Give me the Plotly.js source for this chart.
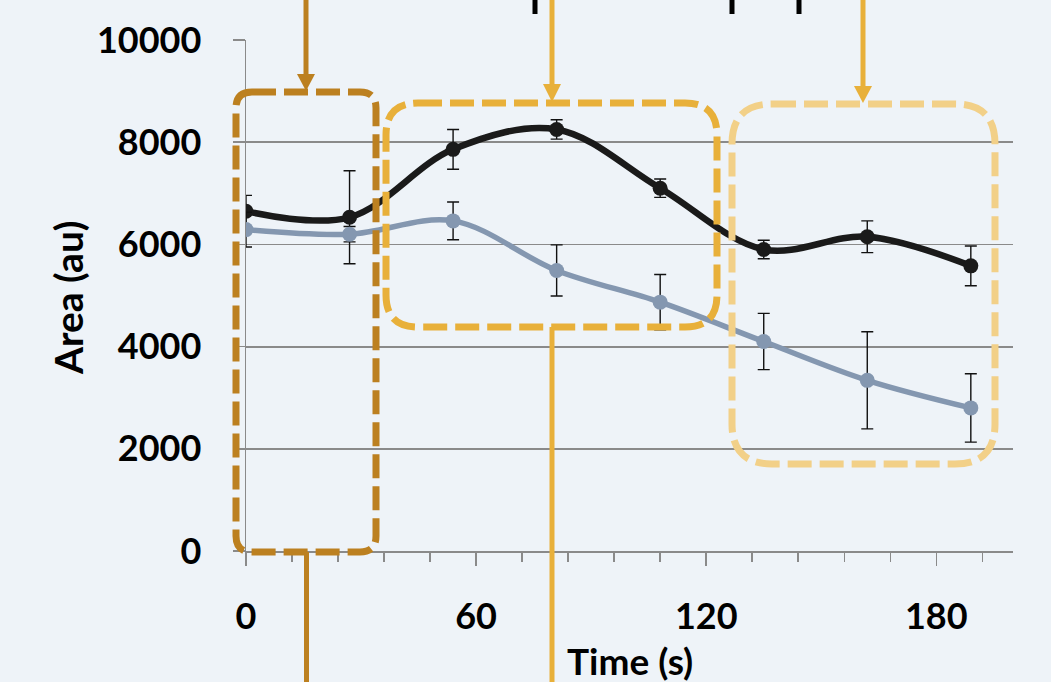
<!DOCTYPE html>
<html>
<head>
<meta charset="utf-8">
<script src="https://cdn.plot.ly/plotly-3.0.1.min.js"></script>
<style>
html,body{margin:0;padding:0;background:#EEF3F8;}
#chart{width:1051px;height:682px;}
</style>
</head>
<body>
<div id="chart"></div>
<script>
// ---- data ----
const time = [0, 27, 54, 81, 108, 135, 162, 189];
const blackSeries = [6650, 6530, 7860, 8250, 7100, 5900, 6150, 5580];
const blackErr = [310, 910, 390, 190, 180, 180, 310, 390];
const graySeries = [6290, 6200, 6460, 5490, 4870, 4100, 3340, 2800];
const grayErr = [340, 150, 370, 500, 540, 550, 950, 670];
const xTickVals = [0, 60, 120, 180];
const xTickText = ['0', '60', '120', '180'];
const yTickVals = [0, 2000, 4000, 6000, 8000, 10000];
const yTickText = ['0', '2000', '4000', '6000', '8000', '10000'];
const xTitle = 'Time (s)';
const yTitle = 'Area (au)';

// ---- layout helpers (pixel -> paper) ----
const L = 246, R = 38, T = 40, B = 131, W = 1051, H = 682;
const PW = W - L - R, PH = H - T - B;
const PX = px => (px - L) / PW;
const PY = py => (H - B - py) / PH;

function rrect(x0, y0, x1, y1, r) {
  const p = (x, y) => PX(x).toFixed(5) + ',' + PY(y).toFixed(5);
  return 'M' + p(x0 + r, y0) + ' L' + p(x1 - r, y0) +
    ' Q' + p(x1, y0) + ' ' + p(x1, y0 + r) +
    ' L' + p(x1, y1 - r) + ' Q' + p(x1, y1) + ' ' + p(x1 - r, y1) +
    ' L' + p(x0 + r, y1) + ' Q' + p(x0, y1) + ' ' + p(x0, y1 - r) +
    ' L' + p(x0, y0 + r) + ' Q' + p(x0, y0) + ' ' + p(x0 + r, y0) + ' Z';
}
function vline(x, y0, y1, color, w) {
  return {type: 'line', xref: 'paper', yref: 'paper', x0: PX(x), x1: PX(x), y0: PY(y0), y1: PY(y1),
    line: {color: color, width: w}, layer: 'above'};
}
function head(x, ytop, ytip, color) {
  const p = (xx, yy) => PX(xx).toFixed(5) + ',' + PY(yy).toFixed(5);
  return {type: 'path', xref: 'paper', yref: 'paper',
    path: 'M' + p(x - 9, ytop) + ' L' + p(x + 9, ytop) + ' L' + p(x, ytip) + ' Z',
    fillcolor: color, line: {width: 0}, layer: 'above'};
}
function box(x0, y0, x1, y1, r, color) {
  return {type: 'path', xref: 'paper', yref: 'paper', path: rrect(x0, y0, x1, y1, r),
    line: {color: color, width: 7, dash: '24px,8px'}, layer: 'above'};
}
function frag(x) {
  return {type: 'rect', xref: 'paper', yref: 'paper', x0: PX(x - 2.5), x1: PX(x + 2.5), y0: PY(0), y1: PY(14),
    fillcolor: '#000', line: {width: 0}, layer: 'above'};
}

const GOLD1 = '#BC8020', GOLD2 = '#E8B03A', GOLD3 = '#F2D088';

const shapes = [
  box(236, 92, 376, 552, 16, GOLD1),
  box(386, 103, 717, 327, 32, GOLD2),
  box(732, 104, 995, 464, 40, GOLD3),
  vline(306, 0, 76, GOLD1, 5), head(306, 74, 91, GOLD1),
  vline(552, 0, 86, GOLD2, 5), head(552, 84, 102, GOLD2),
  vline(863, 0, 88, GOLD2, 5), head(863, 86, 103, GOLD2),
  vline(306.5, 552, 690, GOLD1, 5),
  vline(552, 327, 690, GOLD2, 5),
  frag(535), frag(732), frag(799)
];

const traces = [
  {
    x: time, y: blackSeries, type: 'scatter', mode: 'lines+markers',
    line: {color: '#1A1A1A', width: 6.5, shape: 'spline', smoothing: 1},
    marker: {color: '#1A1A1A', size: 15},
    error_y: {type: 'data', array: blackErr, visible: true, color: '#111', thickness: 1.4, width: 6},
    showlegend: false, hoverinfo: 'skip'
  },
  {
    x: time, y: graySeries, type: 'scatter', mode: 'lines+markers',
    line: {color: '#8497B0', width: 5.5, shape: 'spline', smoothing: 1},
    marker: {color: '#8497B0', size: 15},
    error_y: {type: 'data', array: grayErr, visible: true, color: '#111', thickness: 1.4, width: 6},
    showlegend: false, hoverinfo: 'skip'
  }
];

const FONT = 'Lato, "Open Sans", sans-serif';
const layout = {
  width: W, height: H,
  margin: {l: L, r: R, t: T, b: B, pad: 0},
  paper_bgcolor: '#EEF3F8', plot_bgcolor: '#EEF3F8',
  font: {family: FONT, color: '#000'},
  showlegend: false,
  xaxis: {
    range: [0, 200], tickmode: 'array', tickvals: xTickVals, ticktext: xTickText,
    ticks: 'outside', ticklen: 13, tickwidth: 1.5, tickcolor: '#8a8a8a',
    minor: {dtick: 12, tick0: 0, ticks: 'outside', ticklen: 9, tickwidth: 1.5, tickcolor: '#8a8a8a', showgrid: false},
    showgrid: false, zeroline: false, showline: true, linecolor: '#8a8a8a', linewidth: 2,
    tickfont: {family: FONT, size: 36, weight: 'bold', color: '#000'},
    ticklabelstandoff: 20, fixedrange: true
  },
  yaxis: {
    range: [0, 10000], tickmode: 'array', tickvals: yTickVals, ticktext: yTickText,
    ticks: 'outside', ticklen: 12, tickwidth: 1.5, tickcolor: '#8a8a8a',
    showgrid: true, gridcolor: '#8a8a8a', gridwidth: 1.8, zeroline: false,
    showline: true, linecolor: '#8a8a8a', linewidth: 1.5,
    tickfont: {family: FONT, size: 36, weight: 'bold', color: '#000'},
    ticklabelstandoff: 24, fixedrange: true
  },
  shapes: shapes,
  annotations: [
    {text: yTitle, xref: 'paper', yref: 'paper', x: PX(68), y: PY(298), textangle: -90,
      xanchor: 'center', yanchor: 'middle', showarrow: false,
      font: {family: FONT, size: 39, weight: 'bold', color: '#000'}},
    {text: xTitle, xref: 'paper', yref: 'paper', x: PX(630), y: PY(660),
      xanchor: 'center', yanchor: 'middle', showarrow: false,
      font: {family: FONT, size: 37, weight: 'bold', color: '#000'}}
  ]
};

Plotly.newPlot('chart', traces, layout, {staticPlot: true, displayModeBar: false});
</script>
</body>
</html>
